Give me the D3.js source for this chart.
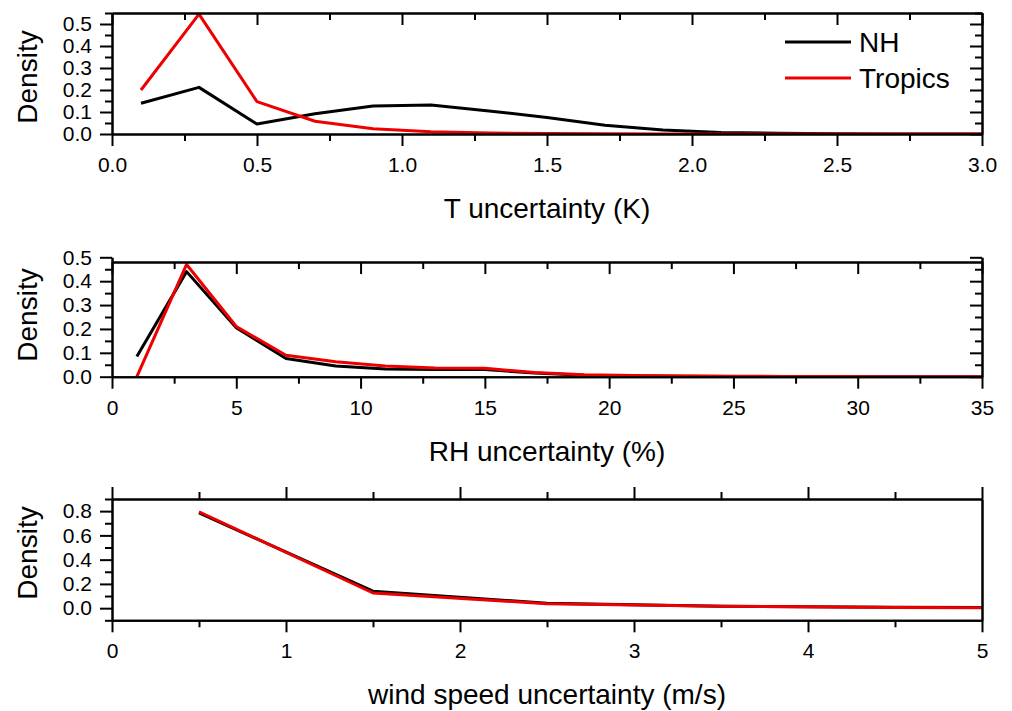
<!DOCTYPE html>
<html>
<head>
<meta charset="utf-8">
<script src="https://cdn.jsdelivr.net/npm/d3@7"></script>
<style>
	body { margin: 0; background: white; }
	svg { display: block; font-family: 'Liberation Sans', Arial, sans-serif; }
</style>
</head>
<body>
<svg></svg>
<script>
'use strict';

const seriesNames = ['NH', 'Tropics'];

// T uncertainty (K)
const tX = [0.1, 0.3, 0.5, 0.7, 0.9, 1.1, 1.3, 1.5, 1.7, 1.9, 2.1, 2.3, 2.5, 2.7, 2.9, 3.1];
const tNH = [0.14, 0.212, 0.045, 0.092, 0.127, 0.132, 0.105, 0.075, 0.04, 0.018, 0.007, 0.003, 0.001, 0.0005, 0, 0];
const tTropics = [0.2, 0.545, 0.147, 0.058, 0.024, 0.01, 0.004, 0.002, 0.001, 0.0005, 0, 0, 0, 0, 0, 0];

// RH uncertainty (%)
const rhX = [1, 3, 5, 7, 9, 11, 13, 15, 17, 19, 21, 23, 25, 27, 29, 31, 33, 35];
const rhNH = [0.085, 0.44, 0.205, 0.076, 0.045, 0.032, 0.03, 0.03, 0.015, 0.006, 0.003, 0.002, 0.001, 0.0005, 0, 0, 0, 0];
const rhTropics = [0.0, 0.47, 0.21, 0.09, 0.063, 0.045, 0.036, 0.035, 0.018, 0.008, 0.005, 0.003, 0.002, 0.001, 0.0005, 0, 0, 0];

// wind speed uncertainty (m/s)
const wsX = [0.5, 1.5, 2.5, 3.5, 4.5, 5.5];
const wsNH = [0.785, 0.14, 0.04, 0.016, 0.007, 0.002];
const wsTropics = [0.795, 0.125, 0.037, 0.015, 0.006, 0.002];

// tick labels
const tXTicks = [0, 0.5, 1, 1.5, 2, 2.5, 3];
const tYTicks = [0, 0.1, 0.2, 0.3, 0.4, 0.5];
const rhXTicks = [0, 5, 10, 15, 20, 25, 30, 35];
const rhYTicks = [0, 0.1, 0.2, 0.3, 0.4, 0.5];
const wsXTicks = [0, 1, 2, 3, 4, 5];
const wsYTicks = [0, 0.2, 0.4, 0.6, 0.8];

const opts = {
	width: 1012,
	height: 711,
	left: 112,
	right: 982,
	major: 12,
	minor: 7,
	colors: ['#000000', '#ee0000']
};

const svg = d3.select('svg')
	.attr('width', opts.width)
	.attr('height', opts.height);

// midpoints between major ticks, used as minor ticks
const halves = (ticks, lo, hi) => {
	let step = ticks[1] - ticks[0];
	let out = [];
	for (let v = lo; v <= hi + 1e-9; v += step / 2) out.push(+v.toFixed(6));
	return out;
};

const panels = [
	{ id: 'p1', top: 13, bottom: 134, xDomain: [0, 3], yDomain: [0, 0.55], yTop: 0.55,
		x: tX, ys: [tNH, tTropics], xTicks: tXTicks, yTicks: tYTicks,
		xFmt: d3.format('.1f'), yFmt: d3.format('.1f'),
		title: 'T uncertainty (K)', labelY: 77, topOut: false, rightTicks: true, legend: true },
	{ id: 'p2', top: 257.3, bottom: 376.7, xDomain: [0, 35], yDomain: [0, 0.5], yTop: 0.48,
		x: rhX, ys: [rhNH, rhTropics], xTicks: rhXTicks, yTicks: rhYTicks,
		xFmt: d3.format('d'), yFmt: d3.format('.1f'),
		title: 'RH uncertainty (%)', labelY: 315, topOut: false, rightTicks: true, legend: false },
	{ id: 'p3', top: 499, bottom: 620.3, xDomain: [0, 5], yDomain: [-0.1, 0.9], yTop: 0.9,
		x: wsX, ys: [wsNH, wsTropics], xTicks: wsXTicks, yTicks: wsYTicks,
		xFmt: d3.format('d'), yFmt: d3.format('.1f'),
		title: 'wind speed uncertainty (m/s)', labelY: 553, topOut: true, rightTicks: false, legend: false }
];

const styleAxis = (g) => {
	g.selectAll('path.domain').attr('stroke', '#000').attr('stroke-width', 2);
	g.selectAll('.tick line').attr('stroke', '#000').attr('stroke-width', 2);
	g.selectAll('.tick text').attr('fill', '#000').style('font-size', '21px').attr('font-family', null);
	g.attr('font-family', null).attr('font-size', null);
};

const drawPanel = (p) => {
	const x = d3.scaleLinear().domain(p.xDomain).range([opts.left, opts.right]);
	const y = d3.scaleLinear().domain(p.yDomain).range([p.bottom, p.top]);
	const yTopPx = y(p.yTop);

	const grp = svg.append('g').attr('class', 'panel').attr('id', p.id);

	const xMinor = halves(p.xTicks, p.xDomain[0], p.xDomain[1]).filter(v => !p.xTicks.includes(v));
	const yMinor = halves(p.yTicks, p.yDomain[0], p.yDomain[1]).filter(v => !p.yTicks.some(t => Math.abs(t - v) < 1e-6));

	// clip for the lines
	grp.append('clipPath').attr('id', `clip-${p.id}`)
		.append('rect')
		.attr('x', opts.left).attr('y', yTopPx)
		.attr('width', opts.right - opts.left).attr('height', p.bottom - yTopPx);

	const line = (vals) => d3.line()
		.x((d, i) => x(p.x[i]))
		.y((d) => y(d))(vals);

	p.ys.forEach((vals, i) => {
		grp.append('path')
			.attr('d', line(vals))
			.attr('clip-path', `url(#clip-${p.id})`)
			.attr('fill', 'none')
			.attr('stroke', opts.colors[i])
			.attr('stroke-width', 3)
			.attr('stroke-linejoin', 'round');
	});

	// bottom axis
	grp.append('g').attr('transform', `translate(0,${p.bottom})`)
		.call(d3.axisBottom(x).tickValues(xMinor).tickSize(opts.minor).tickSizeOuter(0).tickFormat(''))
		.call(styleAxis);
	grp.append('g').attr('transform', `translate(0,${p.bottom})`)
		.call(d3.axisBottom(x).tickValues(p.xTicks).tickSize(opts.major).tickSizeOuter(0).tickPadding(11).tickFormat(p.xFmt))
		.call(styleAxis);

	// top axis
	const topAxis = p.topOut ? d3.axisTop : d3.axisBottom;
	grp.append('g').attr('transform', `translate(0,${yTopPx})`)
		.call(topAxis(x).tickValues(xMinor).tickSize(opts.minor).tickSizeOuter(0).tickFormat(''))
		.call(styleAxis);
	grp.append('g').attr('transform', `translate(0,${yTopPx})`)
		.call(topAxis(x).tickValues(p.xTicks).tickSize(opts.major).tickSizeOuter(0).tickFormat(''))
		.call(styleAxis);

	// left axis
	grp.append('g').attr('transform', `translate(${opts.left},0)`)
		.call(d3.axisLeft(y).tickValues(yMinor).tickSize(opts.minor).tickSizeOuter(0).tickFormat(''))
		.call(styleAxis);
	grp.append('g').attr('transform', `translate(${opts.left},0)`)
		.call(d3.axisLeft(y).tickValues(p.yTicks).tickSize(opts.major).tickSizeOuter(0).tickPadding(8).tickFormat(p.yFmt))
		.call(styleAxis);

	// right axis
	const rMinor = d3.axisLeft(y).tickValues(p.rightTicks ? yMinor : []).tickSize(opts.minor).tickSizeOuter(0).tickFormat('');
	const rMajor = d3.axisLeft(y).tickValues(p.rightTicks ? p.yTicks : []).tickSize(opts.major).tickSizeOuter(0).tickFormat('');
	grp.append('g').attr('transform', `translate(${opts.right},0)`).call(rMinor).call(styleAxis);
	grp.append('g').attr('transform', `translate(${opts.right},0)`).call(rMajor).call(styleAxis);

	// axis titles
	grp.append('text')
		.text(p.title)
		.attr('x', (opts.left + opts.right) / 2)
		.attr('y', p.bottom + 84)
		.attr('text-anchor', 'middle')
		.style('font-size', '28px');

	grp.append('text')
		.text('Density')
		.attr('transform', `translate(37,${p.labelY}) rotate(-90)`)
		.attr('text-anchor', 'middle')
		.style('font-size', '28px');

	if (p.legend) {
		const lg = grp.append('g').attr('class', 'legend');
		seriesNames.forEach((name, i) => {
			let ly = 42 + i * 36;
			lg.append('line')
				.attr('x1', 785).attr('x2', 851)
				.attr('y1', ly).attr('y2', ly)
				.attr('stroke', opts.colors[i])
				.attr('stroke-width', 3);
			lg.append('text')
				.text(name)
				.attr('x', 859)
				.attr('y', ly + 10)
				.style('font-size', '28px');
		});
	}
};

panels.forEach(drawPanel);
</script>
</body>
</html>
